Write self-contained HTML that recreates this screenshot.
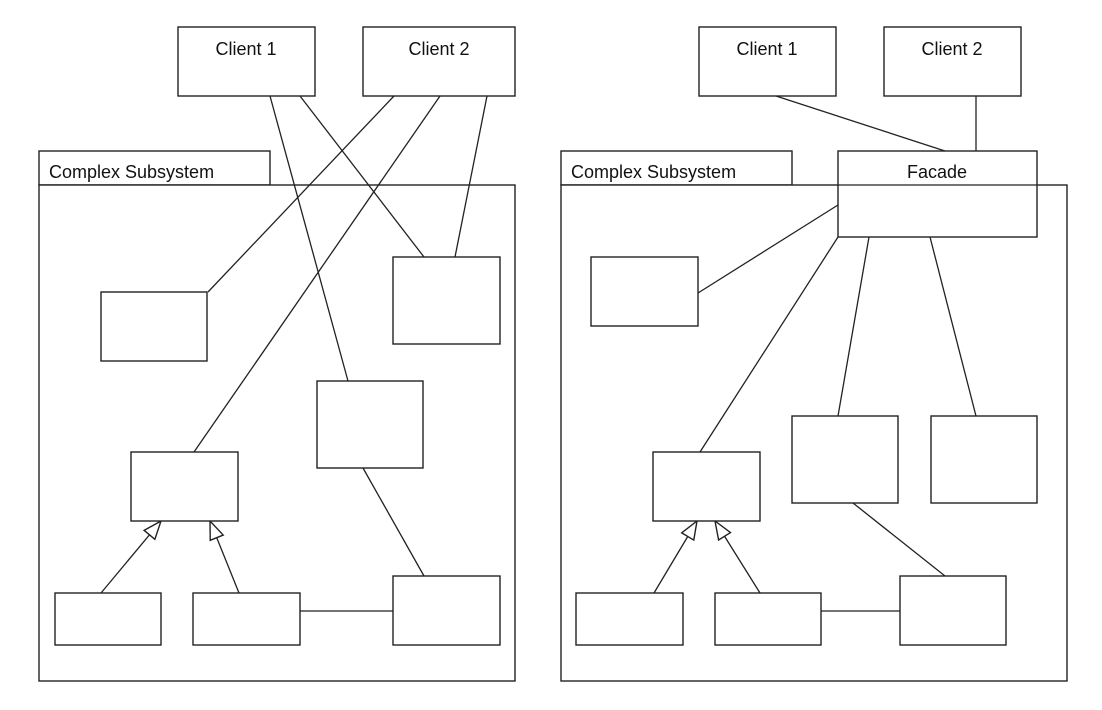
<!DOCTYPE html>
<html><head><meta charset="utf-8"><style>
html,body{margin:0;padding:0;background:#fff;}
svg{display:block;}
text{font-family:"Liberation Sans","DejaVu Sans",sans-serif;font-size:18px;fill:#111;}
</style></head><body>
<svg width="1102" height="710" viewBox="0 0 1102 710" xmlns="http://www.w3.org/2000/svg">
<defs>
<marker id="tri" viewBox="0 0 19 16" refX="19" refY="8" markerWidth="19" markerHeight="16" markerUnits="userSpaceOnUse" orient="auto">
<path d="M1,1 L19,8 L1,15 Z" fill="#fff" stroke="#222" stroke-width="1.4"/>
</marker>
</defs>
<g fill="#fff" stroke="#222" stroke-width="1.4">
<rect x="39" y="151" width="231" height="34"/>
<rect x="39" y="185" width="476" height="496"/>
<rect x="178" y="27" width="137" height="69"/>
<rect x="363" y="27" width="152" height="69"/>
</g>
<g stroke="#222" stroke-width="1.3" fill="none">
<line x1="270" y1="96" x2="348" y2="381"/>
<line x1="300" y1="96" x2="424" y2="257"/>
<line x1="394" y1="96" x2="208" y2="292"/>
<line x1="440" y1="96" x2="194" y2="452"/>
<line x1="487" y1="96" x2="455" y2="257"/>
<line x1="363" y1="468" x2="424" y2="576"/>
<line x1="300" y1="611" x2="393" y2="611"/>
<line x1="101" y1="593" x2="161" y2="521" marker-end="url(#tri)"/>
<line x1="239" y1="593" x2="210" y2="521" marker-end="url(#tri)"/>
</g>
<g fill="#fff" stroke="#222" stroke-width="1.4">
<rect x="101" y="292" width="106" height="69"/>
<rect x="393" y="257" width="107" height="87"/>
<rect x="317" y="381" width="106" height="87"/>
<rect x="131" y="452" width="107" height="69"/>
<rect x="55" y="593" width="106" height="52"/>
<rect x="193" y="593" width="107" height="52"/>
<rect x="393" y="576" width="107" height="69"/>
</g>
<text x="246" y="55" text-anchor="middle">Client 1</text>
<text x="439" y="55" text-anchor="middle">Client 2</text>
<text x="49" y="178">Complex Subsystem</text>

<g fill="#fff" stroke="#222" stroke-width="1.4">
<rect x="561" y="151" width="231" height="34"/>
<rect x="561" y="185" width="506" height="496"/>
<rect x="699" y="27" width="137" height="69"/>
<rect x="884" y="27" width="137" height="69"/>
</g>
<g stroke="#222" stroke-width="1.3" fill="none">
<line x1="776" y1="96" x2="945" y2="151"/>
<line x1="976" y1="96" x2="976" y2="151"/>
<line x1="838" y1="205" x2="698" y2="293"/>
<line x1="838" y1="237" x2="700" y2="452"/>
<line x1="869" y1="237" x2="838" y2="416"/>
<line x1="930" y1="237" x2="976" y2="416"/>
<line x1="853" y1="503" x2="945" y2="576"/>
<line x1="821" y1="611" x2="900" y2="611"/>
<line x1="654" y1="593" x2="697" y2="521" marker-end="url(#tri)"/>
<line x1="760" y1="593" x2="715" y2="521" marker-end="url(#tri)"/>
</g>
<g fill="#fff" stroke="#222" stroke-width="1.4">
<rect x="838" y="151" width="199" height="86"/>
<rect x="591" y="257" width="107" height="69"/>
<rect x="792" y="416" width="106" height="87"/>
<rect x="931" y="416" width="106" height="87"/>
<rect x="653" y="452" width="107" height="69"/>
<rect x="576" y="593" width="107" height="52"/>
<rect x="715" y="593" width="106" height="52"/>
<rect x="900" y="576" width="106" height="69"/>
</g>
<line x1="838" y1="185" x2="1037" y2="185" stroke="#222" stroke-width="1.2"/>
<text x="767" y="55" text-anchor="middle">Client 1</text>
<text x="952" y="55" text-anchor="middle">Client 2</text>
<text x="571" y="178">Complex Subsystem</text>
<text x="937" y="178" text-anchor="middle">Facade</text>
</svg>
</body></html>
